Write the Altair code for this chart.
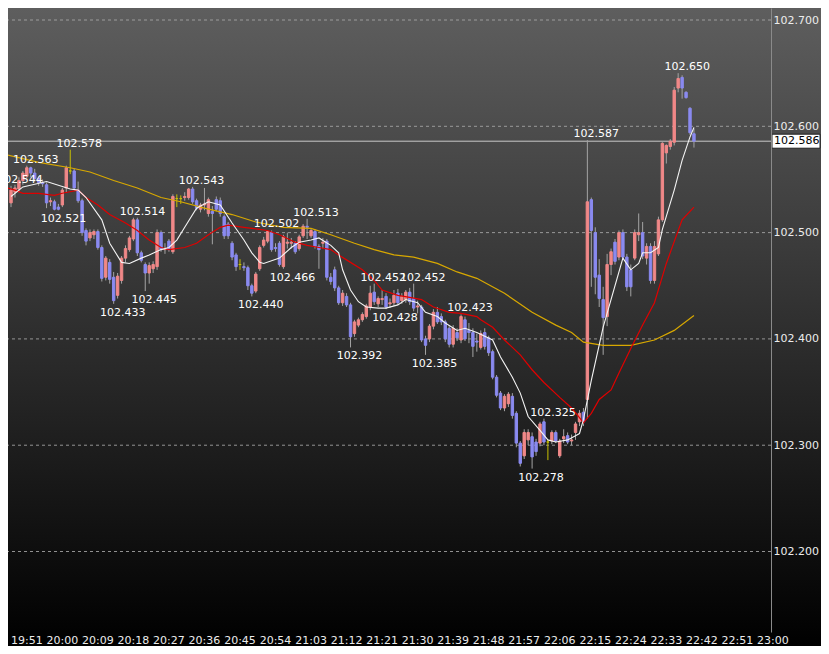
import altair as alt
import pandas as pd

# ---------------- data (1-minute bars) ----------------
FIRST_BAR = "19:47"

opens = [102.528, 102.538, 102.541, 102.549, 102.553, 102.561, 102.556, 102.551, 102.547, 102.545,
         102.529, 102.529, 102.524, 102.526, 102.542, 102.558, 102.558, 102.540, 102.530, 102.502,
         102.495, 102.498, 102.501, 102.486, 102.458, 102.472, 102.458, 102.441, 102.455, 102.476,
         102.484, 102.494, 102.512, 102.481, 102.470, 102.462, 102.466, 102.468, 102.500, 102.484,
         102.492, 102.482, 102.532, 102.532, 102.533, 102.533, 102.541, 102.530, 102.522, 102.526,
         102.518, 102.520, 102.531, 102.530, 102.515, 102.508, 102.490, 102.479, 102.470, 102.468,
         102.467, 102.450, 102.445, 102.466, 102.488, 102.492, 102.500, 102.486, 102.490, 102.468,
         102.490, 102.490, 102.490, 102.485, 102.497, 102.506, 102.497, 102.501, 102.487, 102.490,
         102.492, 102.458, 102.465, 102.448, 102.434, 102.440, 102.432, 102.405, 102.413, 102.418,
         102.421, 102.430, 102.444, 102.433, 102.437, 102.440, 102.433, 102.434, 102.443, 102.436,
         102.437, 102.444, 102.438, 102.430, 102.430, 102.400, 102.400, 102.412, 102.425, 102.421,
         102.416, 102.410, 102.395, 102.406, 102.399, 102.418, 102.408, 102.406, 102.398, 102.392,
         102.406, 102.401, 102.388, 102.364, 102.349, 102.335, 102.339, 102.346, 102.330, 102.302,
         102.290, 102.305, 102.308, 102.303, 102.302, 102.322, 102.303, 102.304, 102.312, 102.290,
         102.306, 102.309, 102.304, 102.312, 102.322, 102.331, 102.343, 102.531, 102.500, 102.460,
         102.437, 102.421, 102.470, 102.491, 102.477, 102.500, 102.477, 102.465, 102.476, 102.498,
         102.500, 102.476, 102.487, 102.455, 102.480, 102.512, 102.575, 102.581, 102.585, 102.636,
         102.646, 102.632, 102.617, 102.593]
highs = [102.544, 102.545, 102.552, 102.558, 102.563, 102.562, 102.560, 102.553, 102.550, 102.547,
         102.533, 102.531, 102.527, 102.542, 102.563, 102.578, 102.560, 102.548, 102.532, 102.504,
         102.503, 102.503, 102.503, 102.488, 102.478, 102.475, 102.463, 102.462, 102.478, 102.488,
         102.497, 102.514, 102.514, 102.483, 102.472, 102.472, 102.473, 102.503, 102.502, 102.490,
         102.494, 102.536, 102.536, 102.535, 102.538, 102.542, 102.543, 102.532, 102.528, 102.542,
         102.533, 102.525, 102.534, 102.533, 102.517, 102.510, 102.492, 102.481, 102.475, 102.472,
         102.469, 102.452, 102.463, 102.488, 102.496, 102.502, 102.502, 102.490, 102.492, 102.498,
         102.500, 102.495, 102.492, 102.498, 102.508, 102.513, 102.504, 102.503, 102.489, 102.495,
         102.494, 102.462, 102.468, 102.450, 102.446, 102.443, 102.434, 102.418, 102.420, 102.425,
         102.433, 102.450, 102.452, 102.440, 102.446, 102.443, 102.438, 102.446, 102.447, 102.443,
         102.446, 102.448, 102.452, 102.436, 102.432, 102.403, 102.414, 102.428, 102.430, 102.424,
         102.418, 102.412, 102.413, 102.410, 102.423, 102.421, 102.415, 102.410, 102.405, 102.408,
         102.410, 102.403, 102.390, 102.366, 102.351, 102.348, 102.350, 102.349, 102.332, 102.304,
         102.315, 102.315, 102.312, 102.306, 102.322, 102.325, 102.305, 102.314, 102.314, 102.306,
         102.315, 102.312, 102.310, 102.322, 102.333, 102.335, 102.587, 102.533, 102.505, 102.475,
         102.449, 102.480, 102.485, 102.494, 102.502, 102.503, 102.480, 102.470, 102.503, 102.518,
         102.510, 102.490, 102.490, 102.492, 102.515, 102.585, 102.583, 102.588, 102.637, 102.650,
         102.648, 102.633, 102.618, 102.598]
lows = [102.524, 102.533, 102.538, 102.545, 102.551, 102.552, 102.548, 102.544, 102.543, 102.523,
        102.525, 102.521, 102.521, 102.524, 102.538, 102.555, 102.541, 102.528, 102.497, 102.488,
        102.492, 102.494, 102.484, 102.454, 102.455, 102.452, 102.433, 102.438, 102.452, 102.472,
        102.482, 102.492, 102.478, 102.472, 102.445, 102.452, 102.462, 102.465, 102.482, 102.480,
        102.482, 102.480, 102.524, 102.527, 102.530, 102.531, 102.527, 102.521, 102.519, 102.521,
        102.515, 102.489, 102.520, 102.515, 102.494, 102.494, 102.474, 102.464, 102.465, 102.464,
        102.446, 102.440, 102.443, 102.464, 102.486, 102.490, 102.482, 102.482, 102.468, 102.466,
        102.485, 102.485, 102.480, 102.483, 102.495, 102.494, 102.495, 102.485, 102.466, 102.485,
        102.455, 102.451, 102.445, 102.432, 102.431, 102.430, 102.392, 102.402, 102.411, 102.416,
        102.419, 102.427, 102.432, 102.430, 102.432, 102.428, 102.429, 102.431, 102.432, 102.433,
        102.434, 102.432, 102.426, 102.424, 102.397, 102.385, 102.397, 102.409, 102.414, 102.413,
        102.397, 102.392, 102.392, 102.398, 102.396, 102.398, 102.396, 102.383, 102.388, 102.390,
        102.390, 102.384, 102.362, 102.345, 102.333, 102.332, 102.336, 102.325, 102.298, 102.280,
        102.287, 102.300, 102.278, 102.290, 102.299, 102.300, 102.286, 102.301, 102.302, 102.288,
        102.302, 102.301, 102.300, 102.305, 102.318, 102.318, 102.325, 102.449, 102.442, 102.430,
        102.385, 102.412, 102.460, 102.470, 102.474, 102.475, 102.445, 102.440, 102.474, 102.492,
        102.475, 102.470, 102.452, 102.452, 102.478, 102.510, 102.565, 102.578, 102.582, 102.632,
        102.626, 102.626, 102.592, 102.580]
closes = [102.540, 102.542, 102.549, 102.556, 102.561, 102.556, 102.551, 102.547, 102.546, 102.528,
          102.530, 102.522, 102.522, 102.540, 102.561, 102.558, 102.542, 102.530, 102.500, 102.492,
          102.500, 102.501, 102.486, 102.457, 102.476, 102.456, 102.436, 102.459, 102.476, 102.485,
          102.495, 102.512, 102.481, 102.474, 102.462, 102.469, 102.470, 102.500, 102.484, 102.485,
          102.484, 102.534, 102.532, 102.532, 102.534, 102.541, 102.529, 102.523, 102.526, 102.527,
          102.531, 102.518, 102.522, 102.518, 102.497, 102.497, 102.477, 102.468, 102.470, 102.467,
          102.450, 102.443, 102.461, 102.486, 102.493, 102.501, 102.484, 102.485, 102.470, 102.496,
          102.491, 102.491, 102.482, 102.496, 102.506, 102.505, 102.502, 102.487, 102.484, 102.491,
          102.458, 102.454, 102.448, 102.434, 102.443, 102.432, 102.402, 102.416, 102.418, 102.423,
          102.431, 102.443, 102.435, 102.438, 102.438, 102.430, 102.434, 102.441, 102.434, 102.440,
          102.444, 102.435, 102.429, 102.431, 102.399, 102.394, 102.412, 102.425, 102.416, 102.416,
          102.400, 102.395, 102.410, 102.401, 102.421, 102.400, 102.406, 102.393, 102.397, 102.405,
          102.393, 102.387, 102.364, 102.347, 102.335, 102.346, 102.348, 102.328, 102.302, 102.283,
          102.312, 102.312, 102.289, 102.294, 102.320, 102.303, 102.303, 102.312, 102.304, 102.304,
          102.308, 102.303, 102.305, 102.320, 102.330, 102.322, 102.529, 102.502, 102.458, 102.438,
          102.420, 102.470, 102.482, 102.473, 102.500, 102.477, 102.449, 102.449, 102.500, 102.500,
          102.478, 102.487, 102.455, 102.487, 102.512, 102.584, 102.582, 102.586, 102.634, 102.645,
          102.636, 102.627, 102.594, 102.586]

# moving averages: bar number (1 = first bar) and value
ma_fast_bar = [1, 4, 10, 16, 18, 20, 24, 26, 29, 31, 34, 36, 39, 41, 43, 45, 48, 51, 54, 57,
               60, 62, 64, 65, 69, 72, 74, 77, 79, 82, 84, 85, 87, 89, 91, 94, 96, 99, 101, 104,
               106, 109, 111, 114, 116, 119, 123, 125, 128, 130, 132, 135, 137, 139, 142, 144, 145, 146, 148, 151,
               156, 158, 160, 161, 163, 165, 166, 169, 171, 173, 174]
ma_fast_val = [102.534, 102.543, 102.548, 102.541, 102.540, 102.533, 102.512, 102.490, 102.472, 102.471,
               102.476, 102.479, 102.484, 102.486, 102.493, 102.505, 102.523, 102.529, 102.526, 102.509,
               102.493, 102.481, 102.472, 102.471, 102.476, 102.486, 102.491, 102.493, 102.495, 102.488,
               102.481, 102.465, 102.446, 102.435, 102.430, 102.429, 102.429, 102.432, 102.437, 102.434,
               102.425, 102.421, 102.415, 102.408, 102.410, 102.406, 102.399, 102.383, 102.364, 102.349,
               102.327, 102.314, 102.305, 102.303, 102.305, 102.309, 102.311, 102.324, 102.361, 102.411,
               102.476, 102.465, 102.471, 102.481, 102.481, 102.486, 102.503, 102.540, 102.568, 102.590,
               102.599]
ma_mid_bar = [0, 2, 4, 8, 12, 14, 18, 20, 23, 26, 30, 33, 36, 39, 41, 45, 48, 51, 54, 56,
              60, 62, 66, 69, 73, 76, 79, 82, 84, 87, 90, 93, 95, 99, 102, 105, 108, 112, 115, 119,
              120, 123, 126, 130, 133, 136, 140, 143, 145, 146, 148, 150, 153, 155, 158, 161, 164, 167, 171, 174]
ma_mid_val = [102.542, 102.540, 102.537, 102.537, 102.535, 102.537, 102.540, 102.533, 102.526, 102.517,
              102.509, 102.502, 102.493, 102.486, 102.484, 102.486, 102.490, 102.498, 102.505, 102.507,
              102.505, 102.504, 102.502, 102.498, 102.491, 102.488, 102.486, 102.484, 102.479, 102.472,
              102.465, 102.455, 102.446, 102.441, 102.439, 102.437, 102.430, 102.425, 102.424, 102.421,
              102.418, 102.411, 102.399, 102.385, 102.371, 102.359, 102.345, 102.335, 102.326, 102.321,
              102.330, 102.343, 102.352, 102.368, 102.391, 102.413, 102.434, 102.471, 102.512, 102.524]
ma_slow_bar = [0, 8, 16, 21, 27, 33, 39, 44, 50, 57, 63, 70, 77, 82, 88, 93, 98, 103, 109, 114,
               119, 126, 133, 139, 143, 146, 151, 158, 164, 169, 174]
ma_slow_val = [102.573, 102.566, 102.561, 102.557, 102.549, 102.542, 102.533, 102.529, 102.523, 102.517,
               102.510, 102.505, 102.504, 102.498, 102.490, 102.484, 102.479, 102.477, 102.471, 102.463,
               102.457, 102.443, 102.425, 102.413, 102.406, 102.397, 102.394, 102.394, 102.399, 102.408,
               102.422]

# high / low annotations
ann_bar = [1, 5, 16, 12, 32, 27, 35, 47, 62, 66, 76, 70, 87, 93, 103, 96, 115, 106, 136, 133, 147, 170]
ann_price = [102.544, 102.563, 102.578, 102.521, 102.514, 102.433, 102.445, 102.543, 102.440, 102.502,
             102.513, 102.466, 102.392, 102.452, 102.452, 102.428, 102.423, 102.385, 102.325, 102.278,
             102.587, 102.650]
ann_side = ["high", "high", "high", "low", "high", "low", "low", "high", "low", "high",
            "high", "low", "low", "high", "high", "low", "high", "low", "high", "low",
            "high", "high"]

x_tick_labels = ["19:51", "20:00", "20:09", "20:18", "20:27", "20:36", "20:45", "20:54", "21:03",
                 "21:12", "21:21", "21:30", "21:39", "21:48", "21:57", "22:06", "22:15", "22:24",
                 "22:33", "22:42", "22:51", "23:00"]
y_tick_values = [102.2, 102.3, 102.4, 102.5, 102.6, 102.7]
current_price = 102.586

# ---------------- build tables ----------------
def to_min(s):
    h, m = s.split(":")
    return int(h) * 60 + int(m)

t0 = to_min(FIRST_BAR) - 1  # minute of bar 0

candles = pd.DataFrame({"o": opens, "h": highs, "l": lows, "c": closes})
candles["bar"] = range(1, len(candles) + 1)
candles["t"] = t0 + candles["bar"]
candles["dir"] = ["doji" if o == c else ("up" if c > o else "down") for o, c in zip(opens, closes)]

def ma_df(bars, vals):
    return pd.DataFrame({"t": [t0 + b for b in bars], "v": vals})

fast = ma_df(ma_fast_bar, ma_fast_val)
mid = ma_df(ma_mid_bar, ma_mid_val)
slow = ma_df(ma_slow_bar, ma_slow_val)

ann = pd.DataFrame({"t": [t0 + b for b in ann_bar], "p": ann_price, "side": ann_side})
ann["label"] = [f"{p:.3f}" for p in ann_price]

grid = pd.DataFrame({"v": y_tick_values})
xticks = pd.DataFrame({"t": [to_min(s) for s in x_tick_labels], "label": x_tick_labels})

# layout: whole chart 813 x 638 so the page (8px margin) fits the window exactly
W, H = 763, 624
RIGHT, BOTTOM = 50, 14
PX_PER_MIN = 4
x_start = to_min(FIRST_BAR) + 0.5
x_dom = [x_start, x_start + W / PX_PER_MIN]
y_top = 102.7113
y_dom = [y_top - H / 1063.0, y_top]

FONT = "DejaVu Sans"
xscale = alt.Scale(domain=x_dom, nice=False, zero=False)
yscale = alt.Scale(domain=y_dom, nice=False, zero=False)
yaxis = alt.Axis(values=y_tick_values, orient="right", format=".3f", title=None, ticks=False,
                 grid=False, domain=True, domainColor="#8a8a8a", domainWidth=1,
                 labelColor="#ececec", labelFont=FONT, labelFontSize=11, labelPadding=2, zindex=1)

X = lambda f: alt.X(f, type="quantitative", scale=xscale, axis=None)
Y = lambda f: alt.Y(f, type="quantitative", scale=yscale, axis=yaxis)

bg = alt.Chart(pd.DataFrame({"d": [0]})).mark_rect(
    fill=alt.LinearGradient(gradient="linear",
                            stops=[alt.GradientStop(color="#5e5e5e", offset=0),
                                   alt.GradientStop(color="#000000", offset=1)],
                            x1=0, x2=0, y1=0, y2=1)
).encode(x=alt.value(0), x2=alt.value(W + RIGHT), y=alt.value(0), y2=alt.value(H + BOTTOM))

gridlines = alt.Chart(grid).mark_rule(strokeDash=[3, 3], color="#a8a8a8", strokeWidth=1, opacity=0.85).encode(
    y=Y("v"))

price_line = alt.Chart(pd.DataFrame({"p": [current_price]})).mark_rule(color="#c8c8c8", strokeWidth=1).encode(
    y=Y("p"))

wicks = alt.Chart(candles).mark_rule(strokeWidth=1, clip=True).encode(
    x=X("t"), y=Y("l"), y2="h",
    color=alt.condition(alt.datum.dir == "doji", alt.value("#c8c000"), alt.value("#a4a4a4")))

dir_scale = alt.Scale(domain=["up", "down", "doji"], range=["#f08888", "#8a8af0", "#c8c000"])
bodies = alt.Chart(candles).mark_bar(size=2.4, strokeWidth=1, clip=True).encode(
    x=X("t"), y=Y("o"), y2="c",
    fill=alt.Fill("dir:N", scale=dir_scale, legend=None),
    stroke=alt.Stroke("dir:N", scale=dir_scale, legend=None))

line_slow = alt.Chart(slow).mark_line(color="#d8a800", strokeWidth=1.2, clip=True).encode(x=X("t"), y=Y("v"))
line_mid = alt.Chart(mid).mark_line(color="#e00000", strokeWidth=1.2, clip=True).encode(x=X("t"), y=Y("v"))
line_fast = alt.Chart(fast).mark_line(color="#f4f4f4", strokeWidth=1.1, clip=True).encode(x=X("t"), y=Y("v"))

ann_hi = alt.Chart(ann).transform_filter(alt.datum.side == "high").mark_text(
    font=FONT, fontSize=11, color="#ffffff", align="center", baseline="alphabetic", dx=9, dy=-3
).encode(x=X("t"), y=Y("p"), text="label:N")
ann_lo = alt.Chart(ann).transform_filter(alt.datum.side == "low").mark_text(
    font=FONT, fontSize=11, color="#ffffff", align="center", baseline="top", dx=9, dy=3
).encode(x=X("t"), y=Y("p"), text="label:N")

# time labels under the plot (23:00 sits at the plot border, so drawn as text)
time_labels = alt.Chart(xticks).mark_text(
    font=FONT, fontSize=11, color="#ececec", align="center", baseline="top"
).encode(x=X("t"), y=alt.value(H + 3), text="label:N")

box_df = pd.DataFrame({"p": [current_price], "top": [current_price + 0.0066],
                       "bot": [current_price - 0.0066], "label": [f"{current_price:.3f}"]})
price_box = alt.Chart(box_df).mark_rect(fill="#ffffff", stroke="#202020", strokeWidth=1).encode(
    x=alt.value(W + 1), x2=alt.value(W + 49), y=Y("top"), y2="bot")
price_txt = alt.Chart(box_df).mark_text(font=FONT, fontSize=11, color="#000000", align="left",
                                       baseline="middle").encode(
    x=alt.value(W + 3), y=Y("p"), text="label:N")

chart = alt.layer(
    bg, gridlines, price_line, wicks, bodies, line_slow, line_mid, line_fast,
    ann_hi, ann_lo, time_labels, price_box, price_txt
).properties(
    width=W, height=H,
    autosize=alt.AutoSizeParams(type="none"),
    padding={"left": 0, "top": 0, "right": RIGHT, "bottom": BOTTOM},
    background="#000000"
).configure_view(stroke=None)

chart.save("out.html", embed_options={"renderer": "svg", "actions": False})
